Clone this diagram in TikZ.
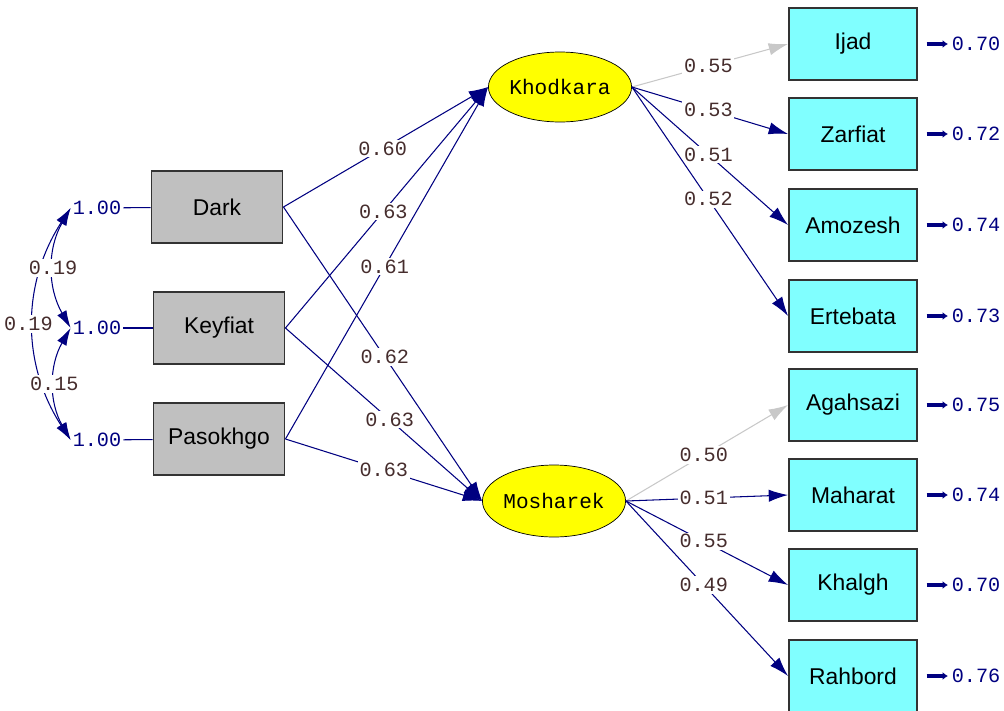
\documentclass[tikz,border=0pt]{standalone}
\usepackage{fontspec}
\setmainfont{Liberation Sans}
\setmonofont{Liberation Mono}
\usepackage{xcolor}
\usetikzlibrary{arrows.meta,shapes.geometric}

\definecolor{lineblue}{RGB}{0,0,128}
\definecolor{fixgray}{RGB}{200,200,200}
\definecolor{boxgray}{RGB}{192,192,192}
\definecolor{boxcyan}{RGB}{128,255,255}
\definecolor{latyellow}{RGB}{255,255,0}
\definecolor{coefbrown}{RGB}{70,45,45}

\begin{document}
\begin{tikzpicture}[x=0.02cm, y=-0.02cm,
    exo/.style={draw=black!80, line width=1.1pt, fill=boxgray, minimum width=2.62cm, minimum height=1.44cm, font=\fontsize{13}{15}\selectfont},
    ind/.style={exo, fill=boxcyan, minimum width=2.56cm},
    lat/.style={ellipse, draw=black, fill=latyellow, minimum width=2.6cm, minimum height=1.4cm, inner sep=0pt, font=\ttfamily\fontsize{12}{14}\selectfont},
    coef/.style={fill=white, inner sep=1pt, text=coefbrown, font=\ttfamily\fontsize{11.5}{13}\selectfont},
    varlab/.style={inner sep=1pt, text=lineblue, font=\ttfamily\fontsize{11.5}{13}\selectfont},
    load/.style={draw=lineblue, line width=0.6pt, -{Latex[length=11pt,width=7pt]}},
    fixload/.style={load, draw=fixgray},
    covar/.style={draw=lineblue, line width=0.6pt, {Latex[length=10pt,width=6pt]}-{Latex[length=10pt,width=6pt]}},
    errarr/.style={draw=lineblue, line width=1.8pt, shorten <=5pt, shorten >=1pt, -{Latex[length=3pt,width=4.5pt]}}]

    \useasboundingbox (0,0) rectangle (1004,710);

    % Exogenous variables
    \node[exo] (dark) at (217,207) {Dark};
    \node[exo] (keyfiat) at (219,328) {Keyfiat};
    \node[exo] (pasokhgo) at (219,439) {Pasokhgo};

    % Variances
    \node[varlab] (v1) at (97,208) {1.00};
    \node[varlab] (v2) at (97,328) {1.00};
    \node[varlab] (v3) at (97,440) {1.00};
    \draw[lineblue, line width=0.6pt] (v1) -- (dark);
    \draw[lineblue, line width=0.6pt] (v2) -- (keyfiat);
    \draw[lineblue, line width=0.6pt] (v3) -- (pasokhgo);

    % Covariances
    \draw[covar] (v1.west) to[bend right=33] node[coef, pos=0.5, xshift=-3pt] {0.19} (v3.west);
    \draw[covar] (v1.west) to[bend right=30] node[coef, pos=0.5] {0.19} (v2.west);
    \draw[covar] (v2.west) to[bend right=30] node[coef, pos=0.5] {0.15} (v3.west);

    % Latent variables
    \node[lat] (khodkara) at (560,87) {Khodkara};
    \node[lat, minimum width=2.7cm, minimum height=1.44cm] (mosharek) at (554,501) {Mosharek};

    % Structural paths
    \draw[load] (dark.east) -- node[coef, pos=0.485] {0.60} (khodkara.west);
    \draw[load] (keyfiat.east) -- node[coef, pos=0.483] {0.63} (khodkara.west);
    \draw[load] (pasokhgo.east) -- node[coef, pos=0.49] {0.61} (khodkara.west);
    \draw[load] (dark.east) -- node[coef, pos=0.51] {0.62} (mosharek.west);
    \draw[load] (keyfiat.east) -- node[coef, pos=0.53] {0.63} (mosharek.west);
    \draw[load] (pasokhgo.east) -- node[coef, pos=0.5] {0.63} (mosharek.west);

    % Indicators - Khodkara
    \node[ind] (ijad) at (853,44) {Ijad};
    \node[ind] (zarfiat) at (853,134) {Zarfiat};
    \node[ind] (amozesh) at (853,225) {Amozesh};
    \node[ind] (ertebata) at (853,316) {Ertebata};

    % Indicators - Mosharek
    \node[ind] (agahsazi) at (853,405) {Agahsazi};
    \node[ind] (maharat) at (853,495) {Maharat};
    \node[ind] (khalgh) at (853,585) {Khalgh};
    \node[ind] (rahbord) at (853,676) {Rahbord};

    % Loadings
    \draw[fixload] (khodkara.east) -- node[coef, pos=0.49] {0.55} (ijad.west);
    \draw[load] (khodkara.east) -- node[coef, pos=0.49] {0.53} (zarfiat.west);
    \draw[load] (khodkara.east) -- node[coef, pos=0.49] {0.51} (amozesh.west);
    \draw[load] (khodkara.east) -- node[coef, pos=0.49] {0.52} (ertebata.west);
    \draw[fixload] (mosharek.east) -- node[coef, pos=0.48] {0.50} (agahsazi.west);
    \draw[load] (mosharek.east) -- node[coef, pos=0.48] {0.51} (maharat.west);
    \draw[load] (mosharek.east) -- node[coef, pos=0.48] {0.55} (khalgh.west);
    \draw[load] (mosharek.east) -- node[coef, pos=0.48] {0.49} (rahbord.west);

    % Error variances
    \node[varlab] (e1) at (976,44) {0.70};
    \node[varlab] (e2) at (976,134) {0.72};
    \node[varlab] (e3) at (976,225) {0.74};
    \node[varlab] (e4) at (976,316) {0.73};
    \node[varlab] (e5) at (976,405) {0.75};
    \node[varlab] (e6) at (976,495) {0.74};
    \node[varlab] (e7) at (976,585) {0.70};
    \node[varlab] (e8) at (976,676) {0.76};
    \draw[errarr] (ijad) -- (e1);
    \draw[errarr] (zarfiat) -- (e2);
    \draw[errarr] (amozesh) -- (e3);
    \draw[errarr] (ertebata) -- (e4);
    \draw[errarr] (agahsazi) -- (e5);
    \draw[errarr] (maharat) -- (e6);
    \draw[errarr] (khalgh) -- (e7);
    \draw[errarr] (rahbord) -- (e8);
\end{tikzpicture}
\end{document}
